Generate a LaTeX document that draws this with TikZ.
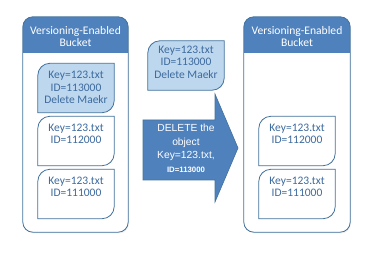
\documentclass[tikz,border=0pt]{standalone}
\usepackage{fontspec}
\setmainfont{Carlito}
\newfontfamily\arialf{Liberation Sans}
\usetikzlibrary{shadows,calc}
\definecolor{hdr}{HTML}{4F81BD}
\definecolor{edgec}{HTML}{41719C}
\definecolor{lite}{HTML}{BDD7EE}
\definecolor{txtc}{HTML}{3D6A9E}
\tikzset{
  bucketbox/.style={rectangle, rounded corners=10pt, fill=white, inner sep=0pt,
    drop shadow={opacity=0.12, shadow xshift=1pt, shadow yshift=-1.5pt}},
  bucketedge/.style={draw=edgec, line width=0.8pt, rounded corners=10pt},
  hdrtext/.style={text=white, font=\fontsize{11.6}{12}\selectfont, align=center, inner sep=0pt},
  objslot/.style={rectangle, minimum width=76pt, minimum height=49pt, inner sep=0pt},
  objedge/.style={draw=edgec, line width=0.8pt},
  objtext/.style={text=txtc, font=\fontsize{11.5}{12.5}\selectfont, align=center, inner sep=0pt},
  arrtext/.style={text=white, font=\arialf\fontsize{10.3}{13.5}\selectfont, align=center, inner sep=0pt}
}
\newcommand{\objshape}[2]{%
  \draw[objedge, fill=#2] (#1.north east) -- ([xshift=12pt]#1.north west)
    .. controls ([xshift=5.4pt]#1.north west) and ([yshift=-5.4pt]#1.north west) .. ([yshift=-12pt]#1.north west)
    -- (#1.south west) -- ([xshift=-12pt]#1.south east)
    .. controls ([xshift=-5.4pt]#1.south east) and ([yshift=5.4pt]#1.south east) .. ([yshift=12pt]#1.south east) -- cycle;}
\newcommand{\bucketdraw}[1]{%
  \begin{scope}
    \clip[rounded corners=10pt] (#1.north west) rectangle (#1.south east);
    \fill[hdr] (#1.north west) rectangle ([yshift=-36pt]#1.north east);
    \draw[white, line width=0.6pt] ([yshift=-36.5pt]#1.north west) -- ([yshift=-36.5pt]#1.north east);
  \end{scope}
  \draw[bucketedge] (#1.north west) rectangle (#1.south east);}
\begin{document}
\begin{tikzpicture}[x=1pt,y=-1pt]
\useasboundingbox (0,0) rectangle (376,256);
% left bucket
\node[bucketbox, minimum width=105pt, minimum height=215pt] (lb) at (75.5,124.5) {};
\bucketdraw{lb}
\node[hdrtext] (lbh) at (75.5,37) {Versioning-Enabled\\Bucket};
% right bucket
\node[bucketbox, minimum width=106pt, minimum height=215pt] (rb) at (297,124.5) {};
\bucketdraw{rb}
\node[hdrtext] (rbh) at (297,37) {Versioning-Enabled\\Bucket};
% left objects
\node[objslot] (l1) at (76,88) {};
\objshape{l1}{lite}
\node[objtext] (l1t) at (76,87.5) {Key=123.txt\\ID=113000\\Delete Maekr};
\node[objslot] (l2) at (76,141) {};
\objshape{l2}{white}
\node[objtext] (l2t) at (76,134) {Key=123.txt\\ID=112000};
\node[objslot] (l3) at (76,194) {};
\objshape{l3}{white}
\node[objtext] (l3t) at (76,187) {Key=123.txt\\ID=111000};
% right objects
\node[objslot] (r2) at (297,141) {};
\objshape{r2}{white}
\node[objtext] (r2t) at (297,134) {Key=123.txt\\ID=112000};
\node[objslot] (r3) at (297,194) {};
\objshape{r3}{white}
\node[objtext] (r3t) at (297,187) {Key=123.txt\\ID=111000};
% middle floating object
\node[objslot] (m1) at (186,65.5) {};
\objshape{m1}{lite}
\node[objtext] (m1t) at (186,62) {Key=123.txt\\ID=113000\\Delete Maekr};
% arrow
\draw[fill=hdr, draw=edgec, line width=0.6pt]
  (143,120) -- (215,120) -- (215,94) -- (238,148) -- (215,202) -- (215,180) -- (143,180) -- cycle;
\node[arrtext] (at) at (186,148.5) {DELETE the\\object\\Key=123.txt,\\{\bfseries\fontsize{7.8}{9}\selectfont ID=113000}};
\end{tikzpicture}
\end{document}
